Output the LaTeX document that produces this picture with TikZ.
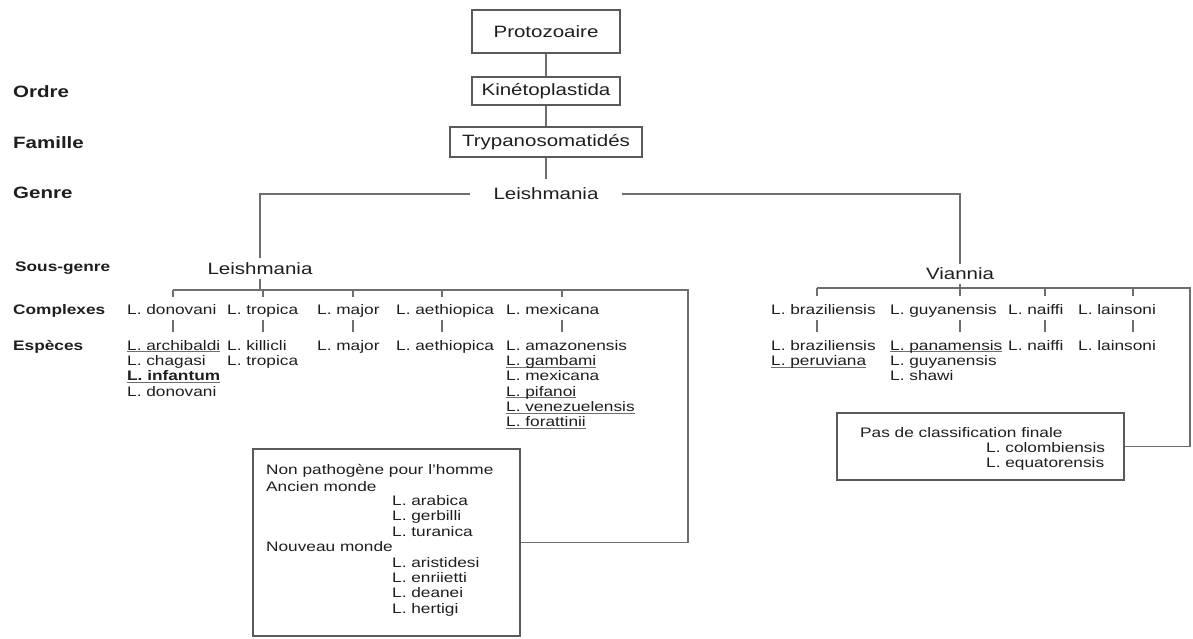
\documentclass[tikz,border=0pt]{standalone}
\usepackage{fontspec}
\setmainfont{Liberation Sans}[FakeStretch=1.25]
\usetikzlibrary{calc}
\definecolor{ln}{HTML}{6E6E6E}
\definecolor{bx}{HTML}{5A5A5A}
\definecolor{tx}{HTML}{1E1E1E}
\tikzset{
 big/.style={font=\fontsize{16.4}{19}\selectfont, text=tx, inner sep=0},
 lbl/.style={font=\fontsize{16.4}{19}\selectfont\bfseries, text=tx, inner sep=0, anchor=mid west, yshift=-2.5pt},
 lbls/.style={font=\fontsize{13.8}{16}\selectfont\bfseries, text=tx, inner sep=0, anchor=mid west, yshift=-2pt},
 sm/.style={font=\fontsize{13.8}{16}\selectfont, text=tx, inner sep=0, anchor=mid west, yshift=-1.5pt},
 box/.style={draw=bx, line width=1.2pt},
 conn/.style={draw=ln, line width=1.1pt},
}
\newcommand\ulx[1]{\setbox0\hbox{#1}\leavevmode\rlap{\color{ln}\rule[-2.2pt]{\wd0}{0.9pt}}\box0}
\newcommand\splist[5]{\foreach \t [count=\i from 0] in {#5} \node[sm] (#1\i) at (#2, #3+#4*\i) {\t};}
\begin{document}
\begin{tikzpicture}[x=1pt,y=-1pt]
\useasboundingbox (0,0) rectangle (1193,639);
% top chain
\node[box, big, minimum width=148, minimum height=43] (proto) at (546,31.5) {Protozoaire};
\node[box, big, minimum width=148, minimum height=28] (kin) at (546,91) {Kinétoplastida};
\node[box, big, minimum width=192, minimum height=30] (tryp) at (546,142) {Trypanosomatidés};
\node[big, minimum width=152, minimum height=30] (genus) at (546,194) {Leishmania};
\draw[conn] (proto) -- (kin);
\draw[conn] (kin) -- (tryp);
\draw[conn] (tryp) -- (genus);
% left labels
\node[lbl] (ordre) at (13,92) {Ordre};
\node[lbl] (famille) at (13,143) {Famille};
\node[lbl] (genre) at (13,193) {Genre};
\node[lbls] (sousgenre) at (15,267) {Sous-genre};
\node[lbls] (complexes) at (13,310) {Complexes};
\node[lbls] (especes) at (13,346) {Espèces};
% sub-genera
\node[big, minimum height=20] (subL) at (260,268.5) {Leishmania};
\node[big, minimum height=20] (via) at (960,274) {Viannia};
\draw[conn] (genus.west) -| (subL.north);
\draw[conn] (genus.east) -| (via.north);
% boxes
\node[box, minimum width=267, minimum height=187] (np) at (386.5,542.5) {};
\node[box, minimum width=287, minimum height=67] (pas) at (980.5,446.5) {};
% Leishmania bar
\coordinate (lbL) at (173,290);
\coordinate (lbR) at (688,290);
\draw[conn] (subL.south) -- (subL.south |- lbL);
\draw[conn] (lbL) -- (lbR) |- (np.east);
\foreach \x in {173,263,353,442,562} {\draw[conn] (\x,290) -- (\x,297); \draw[conn] (\x,320) -- (\x,332);}
% Viannia bar
\coordinate (vbL) at (817,288);
\coordinate (vbR) at (1190,288);
\draw[conn] (via.south) -- (via.south |- vbL);
\draw[conn] (vbL) -- (vbR) |- (pas.east);
\foreach \x in {817,960,1045,1133} {\draw[conn] (\x,288) -- (\x,296); \draw[conn] (\x,320) -- (\x,332);}
% complexes Leishmania
\node[sm] (cD) at (127,310) {L. donovani};
\node[sm] (cT) at (227,310) {L. tropica};
\node[sm] (cM) at (317,310) {L. major};
\node[sm] (cA) at (396,310) {L. aethiopica};
\node[sm] (cX) at (506,310) {L. mexicana};
% species Leishmania
\splist{sD}{127}{346}{15.3}{{\ulx{L. archibaldi}},L. chagasi,{\ulx{\bfseries L. infantum}},L. donovani}
\splist{sT}{227}{346}{15.3}{L. killicli,L. tropica}
\splist{sM}{317}{346}{15.3}{L. major}
\splist{sA}{396}{346}{15.3}{L. aethiopica}
\splist{sX}{506}{346}{15.3}{L. amazonensis,{\ulx{L. gambami}},L. mexicana,{\ulx{L. pifanoi}},{\ulx{L. venezuelensis}},{\ulx{L. forattinii}}}
% complexes Viannia
\node[sm] (cB) at (771,310) {L. braziliensis};
\node[sm] (cG) at (890,310) {L. guyanensis};
\node[sm] (cN) at (1008,310) {L. naiffi};
\node[sm] (cL) at (1078,310) {L. lainsoni};
\splist{sB}{771}{346}{15.3}{L. braziliensis,{\ulx{L. peruviana}}}
\splist{sG}{890}{346}{15.3}{{\ulx{L. panamensis}},L. guyanensis,L. shawi}
\splist{sN}{1008}{346}{15.3}{L. naiffi}
\splist{sL}{1078}{346}{15.3}{L. lainsoni}
% Pas de classification
\node[sm] (pas1) at (860,433) {Pas de classification finale};
\splist{sP}{986}{448}{15}{L. colombiensis,L. equatorensis}
% Non pathogene
\node[sm] (np1) at (266,470) {Non pathogène pour l'homme};
\node[sm] (np2) at (266,487) {Ancien monde};
\splist{sO}{392}{501}{15.5}{L. arabica,L. gerbilli,L. turanica}
\node[sm] (np3) at (266,547) {Nouveau monde};
\splist{sW}{392}{563}{15.3}{L. aristidesi,L. enriietti,L. deanei,L. hertigi}
\end{tikzpicture}
\end{document}
